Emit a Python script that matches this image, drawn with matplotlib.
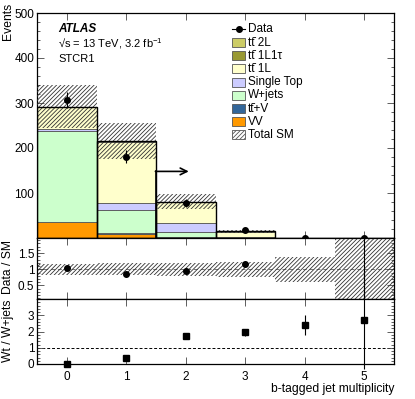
"""
STCR1 - b-tagged jet multiplicity with Data/SM and Wt/W+jets panels.
"""

import matplotlib
matplotlib.use("Agg")
import matplotlib.pyplot as plt
from matplotlib.patches import Rectangle
from matplotlib.ticker import MultipleLocator, FuncFormatter

plt.rcParams["font.family"] = ["Liberation Sans", "DejaVu Sans"]
plt.rcParams["mathtext.fontset"] = "custom"
plt.rcParams["mathtext.rm"] = "Liberation Sans"
plt.rcParams["mathtext.it"] = "Liberation Sans:italic"
plt.rcParams["mathtext.bf"] = "Liberation Sans:bold"
plt.rcParams["hatch.linewidth"] = 0.6

# ── Data ───────────────────────────────────────────────────────────────────
nbjets = [0, 1, 2, 3, 4, 5]

vv        = [35.0, 10.0, 1.5, 0.3, 0.0, 0.0]
ttv       = [0.5, 0.5, 0.8, 0.2, 0.0, 0.0]
wjets     = [203.0, 51.0, 10.0, 1.0, 0.2, 0.0]
singletop = [4.0, 17.0, 20.0, 1.5, 0.3, 0.1]
tt_1l     = [48.0, 134.5, 47.7, 11.2, 0.3, 0.1]
tt_1l1t   = [0.5, 1.0, 0.5, 0.2, 0.0, 0.0]
tt_2l     = [1.0, 1.0, 0.5, 0.2, 0.0, 0.0]
sm_err    = [48.0, 40.0, 16.0, 3.3, 0.31, 0.4]

data     = [307, 181, 77, 17, 0, 1]
data_err = [17.5, 13.5, 8.8, 4.1, 0.0, 1.0]

ratio     = [1.05, 0.84, 0.95, 1.16, 0.0, 5.0]
ratio_err = [0.06, 0.07, 0.1, 0.1, 0.0, 5.0]

wt_over_w     = [0.0, 0.35, 1.7, 1.95, 2.4, 2.7]
wt_over_w_err = [0.03, 0.08, 0.15, 0.2, 0.6, 3.0]

TTBAR = "tt\u0304"
components = [
    ("VV",               vv,        "#ff9900"),
    (TTBAR + "+V",       ttv,       "#336699"),
    ("W+jets",           wjets,     "#ccffcc"),
    ("Single Top",       singletop, "#ccccff"),
    (TTBAR + " 1L",      tt_1l,     "#ffffcc"),
    (TTBAR + " 1L1τ",    tt_1l1t,   "#999933"),
    (TTBAR + " 2L",      tt_2l,     "#cccc66"),
]

CUT_X = 1.5
ARROW_Y = 148
ARROW_END = 2.05
HATCH = "////////"
LBL = 8.7
LEG = 8.5


def label_fmt(skip):
    def f(v, _):
        if any(abs(v - s) < 1e-6 for s in skip):
            return ""
        return f"{v:g}"
    return FuncFormatter(f)


def style_axis(ax):
    ax.tick_params(which="both", direction="in", top=True, right=True,
                   labelsize=8.5, width=0.6, color="#444444", pad=2)
    ax.tick_params(which="major", length=5)
    ax.tick_params(which="minor", length=2.5)
    for s in ax.spines.values():
        s.set_linewidth(0.9)


fig = plt.figure(figsize=(4.15, 3.99), dpi=100)
L, W = 37 / 415, 357 / 415
ax = fig.add_axes([L, 1 - 238 / 399, W, 225 / 399])
axr = fig.add_axes([L, 1 - 299 / 399, W, 61 / 399], sharex=ax)
axb = fig.add_axes([L, 1 - 364 / 399, W, 65 / 399], sharex=ax)

# ── Main panel: stacked backgrounds ────────────────────────────────────────
bottom = [0.0] * len(nbjets)
for label, vals, col in components:
    ax.bar(nbjets, vals, width=1.0, bottom=bottom, color=col,
           edgecolor="#555555", linewidth=0.6, zorder=2)
    bottom = [b + v for b, v in zip(bottom, vals)]
total = bottom

ax.bar(nbjets, [2 * e for e in sm_err], width=1.0,
       bottom=[t - e for t, e in zip(total, sm_err)],
       fill=False, hatch=HATCH, edgecolor="#333333", linewidth=0, zorder=3)
ax.bar(nbjets, total, width=1.0, fill=False, edgecolor="black",
       linewidth=1.0, zorder=4)

ax.errorbar(nbjets, data, yerr=data_err, fmt="o", color="black",
            markersize=4, elinewidth=0.8, capsize=0, zorder=6)

# cut line + arrow
ax.plot([CUT_X, CUT_X], [0, ARROW_Y], color="black", lw=1.2, zorder=5)
ax.annotate("", xy=(ARROW_END, ARROW_Y), xytext=(CUT_X - 0.01, ARROW_Y),
            arrowprops=dict(arrowstyle="->", lw=1.2, color="black",
                            mutation_scale=12, shrinkA=0, shrinkB=0),
            zorder=5)

ax.set_xlim(-0.5, 5.5)
ax.set_ylim(0, 500)
ax.yaxis.set_major_locator(MultipleLocator(100))
ax.yaxis.set_minor_locator(MultipleLocator(20))
ax.yaxis.set_major_formatter(label_fmt([0]))
ax.xaxis.set_major_locator(MultipleLocator(1))
style_axis(ax)
ax.tick_params(axis="x", labelbottom=False)

# labels
ax.text(0.059, 0.929, "ATLAS", transform=ax.transAxes, fontsize=8.5,
        fontweight="bold", fontstyle="italic", va="center")
ax.text(0.059, 0.862, r"√s = 13 TeV, 3.2 fb$^{-1}$", transform=ax.transAxes,
        fontsize=8, va="center")
ax.text(0.059, 0.796, "STCR1", transform=ax.transAxes, fontsize=8,
        va="center")

# ── Legend (drawn by hand) ─────────────────────────────────────────────────
lx0, lx1, ltx = 195 / 357, 208 / 357, 211 / 357
row_y = lambda i: (238 - (29.3 + 13.2 * i)) / 225
bh = 9 / 225
ax.plot([lx0, lx1], [row_y(0)] * 2, color="black", lw=0.8,
        transform=ax.transAxes, zorder=7)
ax.plot([(lx0 + lx1) / 2], [row_y(0)], "o", color="black", markersize=4,
        transform=ax.transAxes, zorder=8)
ax.text(ltx, row_y(0), "Data", transform=ax.transAxes, fontsize=LEG,
        va="center")
for i, (label, vals, col) in enumerate(reversed(components), start=1):
    ax.add_patch(Rectangle((lx0, row_y(i) - bh / 2), lx1 - lx0, bh,
                           transform=ax.transAxes, facecolor=col,
                           edgecolor="#555555", lw=0.6, zorder=7))
    ax.text(ltx, row_y(i), label, transform=ax.transAxes, fontsize=LEG,
            va="center")
i = len(components) + 1
ax.add_patch(Rectangle((lx0, row_y(i) - bh / 2), lx1 - lx0, bh,
                       transform=ax.transAxes, facecolor="white",
                       hatch=HATCH, edgecolor="#555555", lw=0.6, zorder=7))
ax.text(ltx, row_y(i), "Total SM", transform=ax.transAxes, fontsize=LEG,
        va="center")

# ── Ratio panel ────────────────────────────────────────────────────────────
rel = [e / t for e, t in zip(sm_err, total)]
axr.bar(nbjets, [2 * r for r in rel], width=1.0,
        bottom=[1 - r for r in rel], fill=False, hatch=HATCH,
        edgecolor="#333333", linewidth=0, zorder=2)
axr.axhline(1, color="#777777", lw=0.7, ls=(0, (4, 3)), zorder=1)
axr.errorbar(nbjets, ratio, yerr=ratio_err, fmt="o", color="black",
             markersize=4, elinewidth=0.8, capsize=0, zorder=4)
axr.set_ylim(0.08, 1.97)
axr.yaxis.set_major_locator(MultipleLocator(0.5))
axr.yaxis.set_minor_locator(MultipleLocator(0.1))
axr.yaxis.set_major_formatter(label_fmt([0]))
style_axis(axr)
axr.tick_params(axis="x", labelbottom=False)

# ── Wt / W+jets panel ──────────────────────────────────────────────────────
axb.axhline(1, color="black", lw=0.7, ls=(0, (3, 2)), zorder=1)
axb.errorbar(nbjets, wt_over_w, yerr=wt_over_w_err, fmt="s", color="black",
             markersize=4, elinewidth=0.8, capsize=0, zorder=4, clip_on=False)
axb.set_ylim(0, 4)
axb.yaxis.set_major_locator(MultipleLocator(1))
axb.yaxis.set_minor_locator(MultipleLocator(0.2))
axb.yaxis.set_major_formatter(label_fmt([4]))
axb.xaxis.set_major_locator(MultipleLocator(1))
style_axis(axb)
axb.tick_params(axis="x", pad=5)

# axis titles
fig.text(8 / 415, 1 - 3 / 399, "Events", rotation=90, ha="center", va="top",
         fontsize=LBL)
fig.text(8 / 415, 1 - 240 / 399, "Data / SM", rotation=90, ha="center",
         va="top", fontsize=LBL)
fig.text(8 / 415, 1 - 300 / 399, "Wt / W+jets", rotation=90, ha="center",
         va="top", fontsize=LBL)
fig.text(394 / 415, 1 - 389 / 399, "b-tagged jet multiplicity", ha="right",
         va="center", fontsize=LBL)

fig.savefig("out.png", dpi=100)
